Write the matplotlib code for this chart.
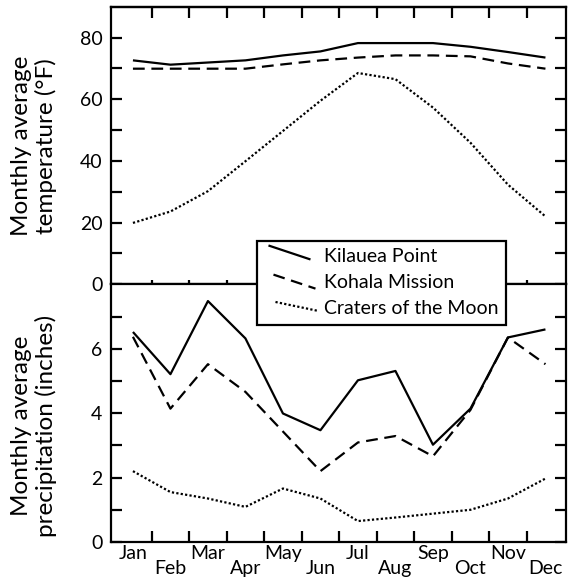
import matplotlib
matplotlib.use("Agg")
import matplotlib.pyplot as plt
from matplotlib.lines import Line2D
from matplotlib.legend_handler import HandlerLine2D

plt.rcParams['font.family'] = ['Lato', 'DejaVu Sans']

# ---- data -----------------------------------------------------------
months = ['Jan', 'Feb', 'Mar', 'Apr', 'May', 'Jun',
          'Jul', 'Aug', 'Sep', 'Oct', 'Nov', 'Dec']
stations = ['Kilauea Point', 'Kohala Mission', 'Craters of the Moon']

temp_kilauea = [72.6, 71.2, 71.9, 72.6, 74.2, 75.5, 78.2, 78.2, 78.2, 77.0, 75.3, 73.5]
temp_kohala = [69.9, 69.9, 69.9, 69.9, 71.3, 72.6, 73.5, 74.2, 74.2, 73.9, 71.6, 69.9]
temp_craters = [19.9, 23.6, 30.2, 39.9, 49.7, 59.5, 68.5, 66.5, 57.3, 45.9, 32.3, 22.0]

precip_kilauea = [6.52, 5.21, 7.48, 6.32, 3.99, 3.47, 5.02, 5.31, 3.02, 4.14, 6.35, 6.60]
precip_kohala = [6.37, 4.14, 5.52, 4.66, 3.43, 2.20, 3.09, 3.29, 2.66, 4.10, 6.35, 5.52]
precip_craters = [2.20, 1.55, 1.35, 1.09, 1.66, 1.35, 0.65, 0.76, 0.88, 1.00, 1.35, 1.97]

temp_ticks = [0, 20, 40, 60, 80]
precip_ticks = [0, 2, 4, 6]

# ---- styling ----------------------------------------------------------
LW = 1.6
styles = [
    dict(color='black', lw=LW, linestyle='-'),
    dict(color='black', lw=LW, linestyle=(0, (5.3, 3.0))),
    dict(color='black', lw=1.6, linestyle=(0, (1.0, 1.0))),
]
SPINE_LW = 1.6
TICK_LEN = 8.2
TICK_FS = 14
LABEL_FS = 17.5

fig = plt.figure(figsize=(5.73, 5.81), dpi=100)
left, right = 110.7 / 573, 566.3 / 573
y_top, y_mid, y_bot = 1 - 7.3 / 581, 1 - 284.3 / 581, 1 - 542.0 / 581
ax_t = fig.add_axes([left, y_mid, right - left, y_top - y_mid])
ax_b = fig.add_axes([left, y_bot, right - left, y_mid - y_bot])

xpos = [i + 0.5 for i in range(len(months))]

for ax, series in ((ax_t, (temp_kilauea, temp_kohala, temp_craters)),
                   (ax_b, (precip_kilauea, precip_kohala, precip_craters))):
    for vals, st, name in zip(series, styles, stations):
        ax.plot(xpos, vals, label=name, solid_capstyle='butt',
                dash_capstyle='butt', **st)
    ax.set_xlim(-0.093, 12.056)
    for sp in ax.spines.values():
        sp.set_linewidth(SPINE_LW)
    ax.tick_params(axis='y', which='both', direction='in', length=TICK_LEN,
                   width=SPINE_LW, left=True, right=True, labelsize=TICK_FS,
                   pad=6)

# ---- top panel: temperature ------------------------------------------
ax_t.set_ylim(0, 89.8)
ax_t.set_yticks(temp_ticks)
ax_t.set_yticks([10, 30, 50, 70], minor=True)
ax_t.set_xticks(range(1, 12))
ax_t.tick_params(axis='x', which='major', direction='inout', length=5.8,
                 width=SPINE_LW, bottom=True, top=False, labelbottom=False)
sec = ax_t.secondary_xaxis('top')
sec.set_xticks(range(1, 12))
sec.tick_params(axis='x', direction='in', length=7.7, width=SPINE_LW,
                labeltop=False)
sec.spines['top'].set_linewidth(SPINE_LW)
ax_t.set_ylabel('Monthly average\ntemperature (\u00b0F)', fontsize=LABEL_FS,
                linespacing=1.15)
ax_t.yaxis.set_label_coords(-0.118, 0.5)

# ---- bottom panel: precipitation -------------------------------------
ax_b.set_ylim(0, 8)
ax_b.set_yticks(precip_ticks)
ax_b.set_yticks([1, 3, 5, 7], minor=True)
ax_b.set_xticks(range(1, 12), minor=True)
ax_b.set_xticks(xpos)
ax_b.set_xticklabels(months, fontsize=TICK_FS)
ax_b.tick_params(axis='x', which='minor', direction='in', length=7.7,
                 width=SPINE_LW, bottom=True, top=False)
ax_b.tick_params(axis='x', which='major', length=0, top=False)
for i, tk in enumerate(ax_b.xaxis.get_major_ticks()):
    tk.set_pad(2.5 if i % 2 == 0 else 13.0)
ax_b.set_ylabel('Monthly average\nprecipitation (inches)', fontsize=LABEL_FS,
                linespacing=1.15)
ax_b.yaxis.set_label_coords(-0.118, 0.45)


# ---- legend with slanted line keys -----------------------------------
class SlantHandler(HandlerLine2D):
    def __init__(self, x0, x1, dy0, dy1, **kw):
        super().__init__(**kw)
        self.seg = (x0, x1, dy0, dy1)

    def create_artists(self, legend, orig_handle, xdescent, ydescent,
                       width, height, fontsize, trans):
        k = 72.0 / fig.dpi
        x0, x1, dy0, dy1 = self.seg
        yc = height / 2.0 - ydescent
        line = Line2D([x0 * k - xdescent, x1 * k - xdescent],
                      [yc + dy0 * k, yc + dy1 * k])
        self.update_prop(line, orig_handle, legend)
        line.set_transform(trans)
        return [line]


LEG_FS = 14
handles = ax_t.get_lines()
handler_map = {
    handles[0]: SlantHandler(4, 46, 10, -4),
    handles[1]: SlantHandler(9, 51, 6.6, -7.4),
    handles[2]: SlantHandler(11, 54, 5, -4),
}
leg = fig.legend(handles, stations, handler_map=handler_map,
                 loc='upper left',
                 bbox_to_anchor=(256.7 / 573, 1 - 240.5 / 581),
                 bbox_transform=fig.transFigure, borderaxespad=0,
                 fontsize=LEG_FS, frameon=True, fancybox=False,
                 edgecolor='black', framealpha=1, handlelength=2.32,
                 handletextpad=0.73, labelspacing=0.45, borderpad=0.4)
leg.get_frame().set_linewidth(SPINE_LW)

fig.savefig('out.png', dpi=100)
